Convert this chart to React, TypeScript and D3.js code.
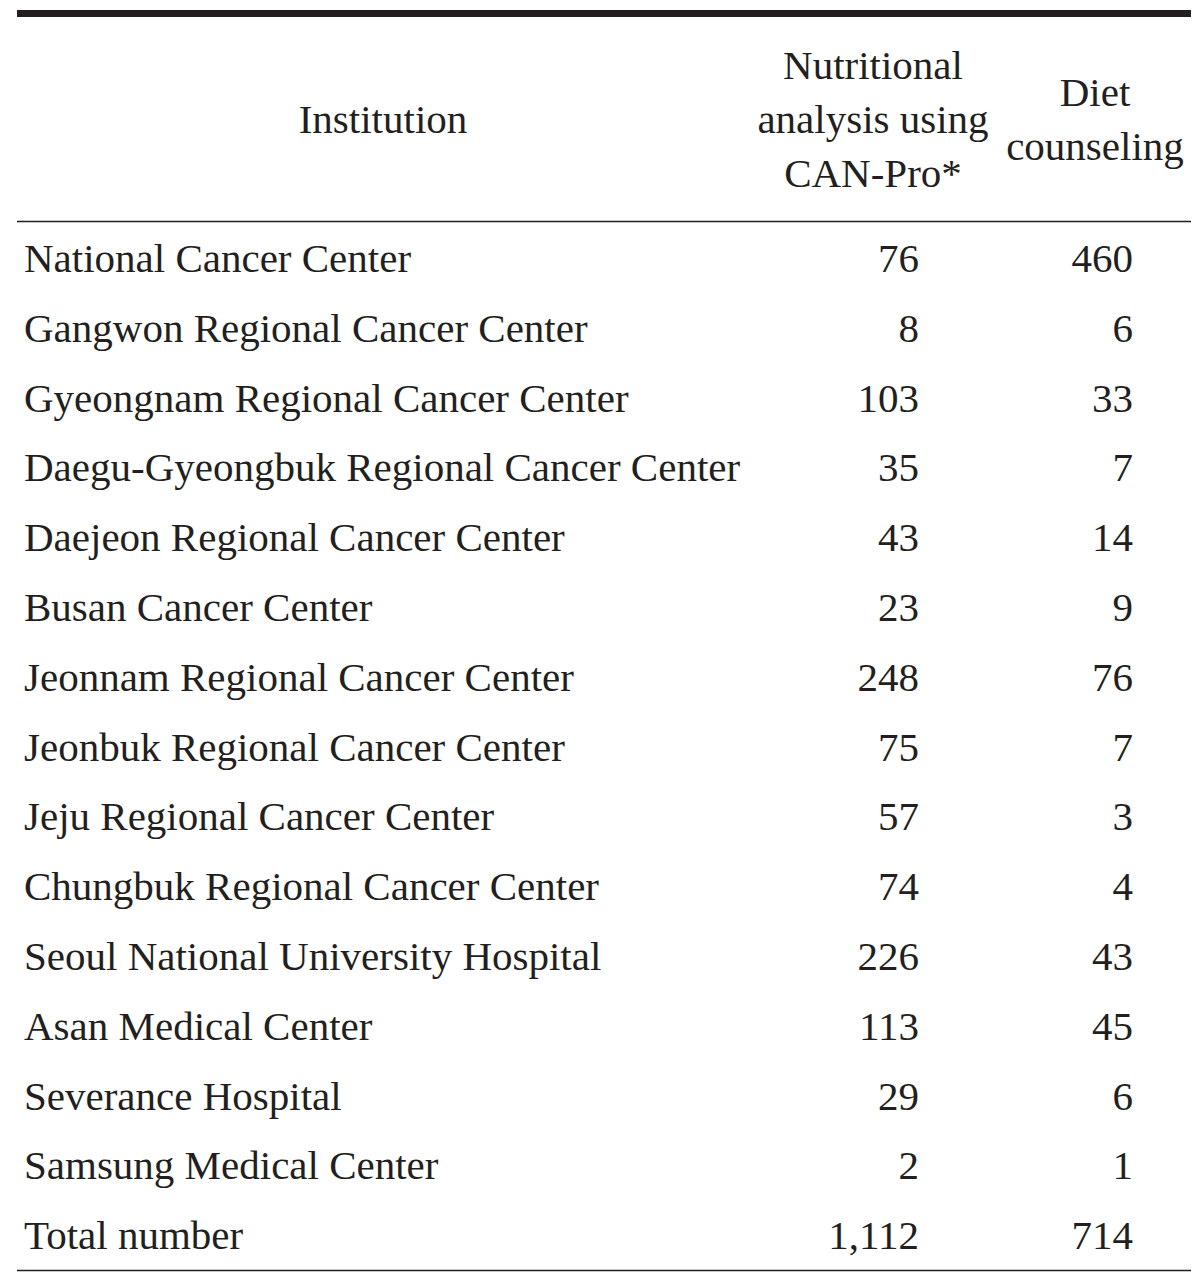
import React from "react";
import * as d3 from "d3";

const institutions = [
  "National Cancer Center",
  "Gangwon Regional Cancer Center",
  "Gyeongnam Regional Cancer Center",
  "Daegu-Gyeongbuk Regional Cancer Center",
  "Daejeon Regional Cancer Center",
  "Busan Cancer Center",
  "Jeonnam Regional Cancer Center",
  "Jeonbuk Regional Cancer Center",
  "Jeju Regional Cancer Center",
  "Chungbuk Regional Cancer Center",
  "Seoul National University Hospital",
  "Asan Medical Center",
  "Severance Hospital",
  "Samsung Medical Center",
  "Total number",
];
const nutritional = [76, 8, 103, 35, 43, 23, 248, 75, 57, 74, 226, 113, 29, 2, 1112];
const diet = [460, 6, 33, 7, 14, 9, 76, 7, 3, 4, 43, 45, 6, 1, 714];
const headerInstitution = ["Institution"];
const headerNutritional = ["Nutritional", "analysis using", "CAN-Pro*"];
const headerDiet = ["Diet", "counseling"];

const W = 1200;
const H = 1283;
const FONT = "'Liberation Serif', 'DejaVu Serif', serif";
const FS = 41;
const COLOR = "#231f20";

export default function App() {
  const y = d3
    .scaleBand<number>()
    .domain(d3.range(institutions.length))
    .range([223, 1270])
    .paddingInner(0)
    .paddingOuter(0);
  const fmt = d3.format(",");
  const xLeft = 17;
  const xRight = 1191;
  const col1Right = 919;
  const col2Right = 1133;
  const headerLine = d3.scaleLinear().domain([0, 2]).range([79, 187]);

  return (
    <svg
      width={W}
      height={H}
      style={{ display: "block", position: "absolute", left: 0, top: 0, background: "#fff" }}
      fontFamily={FONT}
      fontSize={FS}
      fill={COLOR}
    >
      <rect x={0} y={0} width={W} height={H} fill="#fff" />
      <rect x={xLeft} y={10} width={xRight - xLeft} height={7} fill={COLOR} />
      <line x1={xLeft} x2={xRight} y1={221.5} y2={221.5} stroke={COLOR} strokeWidth={1.6} />
      <line x1={xLeft} x2={xRight} y1={1270.5} y2={1270.5} stroke={COLOR} strokeWidth={1.6} />

      {headerInstitution.map((t) => (
        <text key={t} x={383} y={133} textAnchor="middle">
          {t}
        </text>
      ))}
      {headerNutritional.map((t, i) => (
        <text key={t} x={873} y={headerLine(i)} textAnchor="middle">
          {t}
        </text>
      ))}
      {headerDiet.map((t, i) => (
        <text key={t} x={1095} y={headerLine(i) + 27} textAnchor="middle">
          {t}
        </text>
      ))}

      {institutions.map((name, i) => {
        const base = (y(i) as number) + y.bandwidth() / 2 + 14;
        return (
          <g key={name}>
            <text x={24} y={base}>
              {name}
            </text>
            <text x={col1Right} y={base} textAnchor="end">
              {fmt(nutritional[i])}
            </text>
            <text x={col2Right} y={base} textAnchor="end">
              {fmt(diet[i])}
            </text>
          </g>
        );
      })}
    </svg>
  );
}
